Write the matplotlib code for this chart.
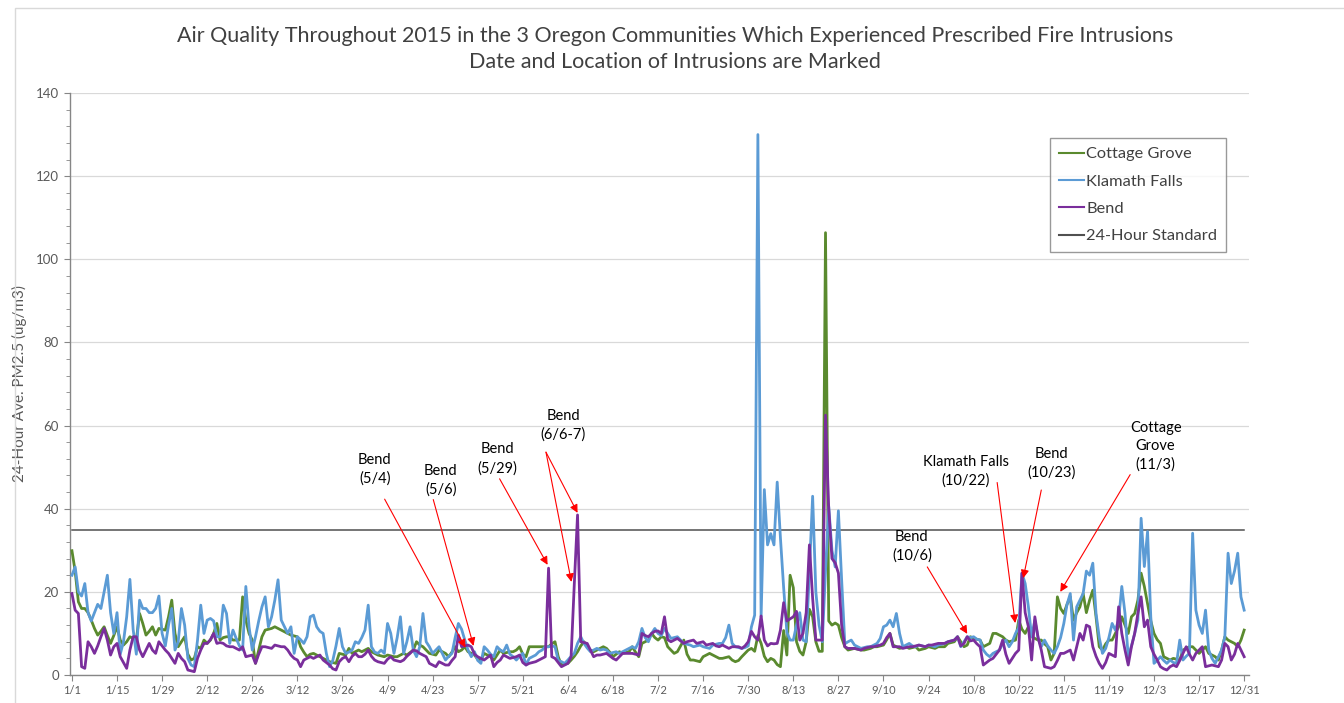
import numpy as np
import pandas as pd
import matplotlib
matplotlib.use("Agg")
import matplotlib.pyplot as plt
from matplotlib.patches import Rectangle

plt.rcParams['font.family'] = ['Lato', 'DejaVu Sans']

# ---------------- data ----------------
dates = pd.date_range("2015-01-01", "2015-12-31", freq="D")

cottage_grove = [
    29.9, 25, 17.6, 16, 16, 15, 13.2, 11.2, 9.6, 10.5,
    11.6, 9.5, 7.6, 9.5, 11.6, 8.4, 7.2, 8, 9.2, 8.8,
    8.4, 14.8, 12.4, 9.6, 10.5, 11.6, 9.6, 11.2, 11, 10.8,
    14, 18, 10, 6.8, 8, 9.2, 5, 3.6, 4, 6.8,
    6.4, 8.4, 7.6, 8.4, 10, 12.4, 8.4, 9, 9.2, 9.2,
    8.4, 8.4, 8.4, 18.8, 13.2, 10, 8.4, 2.8, 6, 9.2,
    10.8, 11, 11.2, 11.6, 11.2, 10.8, 10.4, 10, 9.6, 9.4,
    9.2, 6.8, 5.5, 4.4, 5, 5.2, 4.8, 4.4, 4, 3.6,
    3.2, 3, 2.8, 5.2, 5, 4.8, 6.4, 5.2, 5.6, 6,
    5.6, 6, 6.4, 5.6, 5.2, 4.8, 4.6, 4.4, 4.8, 4.6,
    4.4, 4.4, 4.8, 5.2, 4.8, 5.4, 6, 8, 7.2, 6.8,
    6, 5.2, 5, 4.8, 6, 5.6, 5.2, 4.4, 5.5, 6.8,
    5.6, 6, 6.8, 5.6, 5.2, 4.8, 3.8, 3.6, 5.2, 4.8,
    4.4, 3.6, 4.8, 6, 5.2, 5.4, 5.6, 5.6, 6, 6.8,
    5, 4.4, 6.8, 6.8, 6.8, 6.8, 6.8, 6.8, 6.8, 7.5,
    8, 4.4, 2.4, 2.6, 2.8, 3.6, 4.5, 5.6, 7, 8,
    6.8, 6, 5.6, 6, 6.4, 6.8, 6.4, 5.5, 4.4, 5,
    5.6, 5.2, 5.4, 5.6, 6.8, 5.5, 4.4, 7.6, 8, 8.4,
    10, 9, 8.4, 9.2, 9, 6.8, 6, 5.2, 5.6, 7,
    8.4, 5, 3.6, 3.6, 3.4, 3.2, 4.4, 4.8, 5.2, 4.8,
    4.4, 4, 4, 4.2, 4.4, 3.6, 3.2, 3.5, 4.4, 5.2,
    6, 6.4, 5.7, 9.5, 7.6, 4.5, 3.2, 4, 3.6, 2.5,
    2, 10.7, 4.8, 24, 21, 8, 5.7, 4.8, 8, 15.8,
    14, 8, 5.7, 5.7, 106.4, 13, 12, 12.5, 12, 9,
    6.8, 6, 6.2, 6.4, 6.2, 6, 6, 6.2, 6.4, 6.8,
    6.8, 7, 7.2, 8.5, 10, 7.2, 6.8, 6.4, 6.6, 6.8,
    6.4, 6.6, 6.8, 6, 6.2, 6.4, 6.8, 6.6, 6.4, 6.8,
    6.8, 6.8, 7.6, 7.8, 8, 9.2, 8, 6.8, 7.2, 9.2,
    8.8, 8.6, 8.4, 6.8, 7.2, 7.6, 10, 10, 9.6, 9.2,
    8.4, 8, 8.2, 8.4, 13.2, 11, 10, 11.6, 9.2, 8.8,
    8.4, 8.4, 7.5, 6.8, 3.6, 5.2, 18.8, 16, 14.8, 17,
    18.8, 13.2, 15, 16.4, 19.6, 15, 18, 20.4, 14, 6.8,
    6, 7.5, 8.4, 8.4, 10, 11.6, 14, 12, 10, 14,
    14.8, 18, 24.5, 21.3, 17.2, 13, 10, 8.5, 7.6, 4.4,
    4, 3.6, 4, 3.8, 3.6, 6, 6.4, 6.8, 6.8, 6,
    5.2, 6, 6.8, 5.2, 4.8, 4.4, 3.6, 6, 9.2, 8.4,
    8, 7.6, 6.8, 8.4, 10.8,
]

klamath_falls = [
    24, 26, 20, 19, 22, 15, 13, 15, 17, 16,
    20, 24, 15, 10, 15, 5, 8, 14, 23, 11,
    5, 18, 16, 16, 15, 15, 16, 19, 10, 7,
    12, 16, 6, 8, 16, 12, 4, 2.4, 2, 8.4,
    16.8, 10, 13.2, 13.6, 13, 9.2, 9.2, 16.8, 14.8, 7.6,
    10.8, 8.8, 7, 6, 21.3, 11.6, 6, 9.2, 13, 16.4,
    18.8, 11.6, 14, 18, 22.9, 13.2, 11.6, 10, 11.6, 5.2,
    9.2, 8.5, 7.6, 9.2, 14, 14.4, 11.6, 10.5, 10, 5.2,
    2, 3.5, 7, 11.2, 6.8, 5.2, 5.5, 6, 8, 7.6,
    9, 10.8, 16.8, 6.8, 5.5, 5.2, 6, 5.2, 12.4, 10,
    5.2, 9, 14, 5.2, 8, 11.6, 6, 4.4, 6.8, 14.8,
    8, 6.8, 5.2, 6, 6.8, 5.2, 3.6, 4.5, 5.2, 9,
    12.4, 11, 8.4, 6, 4.4, 5.6, 3.5, 2.8, 6.8, 6,
    5, 4.4, 6.8, 6, 5.6, 7.2, 5, 4.4, 3.6, 4.5,
    5.2, 2.4, 4, 4.4, 4.8, 5.6, 6, 6.8, 6.8, 7,
    6.8, 3.5, 3.2, 2.8, 3.6, 4.5, 5.2, 7.6, 9.2, 7.6,
    6.5, 5.6, 6, 6.4, 6, 6.2, 6, 5.2, 5.4, 5.6,
    5.2, 5.6, 6, 6.4, 6.8, 6.4, 8, 11.2, 9, 8,
    10, 11.2, 10, 9.5, 11.2, 10, 8.8, 9, 9.2, 8.4,
    7.6, 7.4, 7.2, 6.8, 7, 7.2, 6.8, 6.6, 6.4, 7.2,
    7.4, 7.6, 7.6, 9, 12, 7.6, 6.8, 6.6, 6.4, 6.6,
    7, 11.6, 14.4, 130, 14, 44.6, 31.3, 34, 31.3, 46.4,
    33, 21, 10.3, 8.4, 8.4, 12, 15, 8.4, 8, 25,
    43, 20, 12, 8, 25, 40.5, 30, 26, 39.5, 23,
    7.5, 8, 8.4, 7.2, 6.8, 6.4, 6.6, 6.8, 6.8, 7.2,
    7.6, 8.8, 11.6, 12, 13.2, 11.6, 14.8, 10, 6.8, 7.2,
    7.6, 7, 6.8, 7.2, 7, 6.8, 7.2, 7, 6.8, 7.2,
    7.4, 7.6, 8, 8.2, 8.4, 9.2, 6.8, 8, 9.2, 9,
    9.2, 8.6, 8.4, 6, 5, 4.4, 5.2, 5.6, 6, 7.5,
    8.4, 6.8, 8, 10, 11.4, 24.5, 22, 16.4, 9.2, 13.2,
    9, 6.8, 8.4, 7, 6, 5.2, 6.8, 9, 12.4, 17,
    19.6, 8.4, 16.4, 18, 19.6, 25, 24, 26.9, 14.8, 9,
    5.2, 6.4, 9, 12.4, 10.8, 13.2, 21.3, 14.8, 4.4, 7,
    10, 13.2, 37.7, 26.1, 34.5, 14, 2.8, 3.5, 4.4, 3.5,
    2.8, 3.6, 3, 2.8, 8.4, 3.6, 4.5, 5.2, 34.1, 15.6,
    12, 10, 15.6, 6, 4, 2.8, 4.4, 6, 9.2, 29.3,
    22, 25, 29.3, 18.8, 15.6,
]

bend = [
    19.6, 15.6, 14.8, 2, 1.6, 8, 6.8, 5.2, 7, 9.2,
    11.2, 8.4, 4.8, 6.8, 7.6, 4.4, 3, 1.6, 6, 9.2,
    9.2, 6, 4.4, 6, 7.6, 6, 5.2, 8, 7, 6,
    5.2, 4, 2.8, 5.2, 4, 3.2, 1.2, 1, 0.8, 4,
    6, 7.6, 7.6, 8.5, 10, 7.6, 7.8, 7.6, 7, 6.8,
    6.8, 6.4, 6, 6.8, 4.4, 4.6, 4.8, 2.8, 5, 6.8,
    6.8, 6.6, 6.4, 7.2, 7, 6.8, 6.8, 6, 4.8, 4,
    3.6, 2, 3.6, 4, 4.4, 4, 4.4, 4.8, 3.6, 3,
    2.4, 1.5, 1.2, 3.2, 4, 4.4, 3.2, 4.5, 5.2, 4.4,
    4.4, 5, 6, 4.5, 3.6, 3.2, 3, 2.8, 3.8, 4.4,
    3.6, 3.4, 3.2, 3.6, 4.5, 5.2, 6, 5.8, 5.2, 4.8,
    4.4, 2.8, 2.4, 2, 3.2, 2.8, 2.4, 2.4, 3.5, 4.4,
    9.6, 6.8, 7, 7.2, 6.8, 5, 4.4, 4, 3.6, 4.2,
    4.8, 2, 3, 3.6, 4.8, 4.4, 4, 4.2, 4.4, 4.8,
    3, 2.4, 2.8, 3, 3.2, 3.6, 4, 4.4, 25.7, 4.4,
    4, 3, 2, 2.4, 2.8, 4.4, 22, 38.5, 8, 7.8,
    7.6, 6, 4.4, 4.8, 4.8, 5, 5.2, 4.6, 4, 3.6,
    4.4, 5.2, 5.2, 5.2, 5.2, 5, 4.8, 10, 9.5, 9.2,
    10, 10.5, 10.6, 10, 14, 8.5, 8, 8.4, 8.8, 8.2,
    7.6, 8, 8.2, 8.4, 7.6, 7.8, 8, 7.2, 7.4, 7.6,
    7, 6.8, 7.2, 6.8, 6.4, 6.8, 6.8, 6.8, 6.4, 7,
    8, 10.5, 9.2, 8.4, 14.2, 8.4, 7, 7.6, 7.5, 7.6,
    10.8, 17.4, 13, 13.5, 14, 15.3, 8.4, 10, 15, 31.3,
    18.5, 8.4, 8.4, 8.4, 62.5, 40, 28, 27, 24.5, 12,
    6.8, 6.4, 6.4, 6.4, 6.2, 6, 6.4, 6.6, 6.8, 6.8,
    7, 7.2, 7.6, 9, 10, 6.8, 6.8, 6.8, 6.4, 6.6,
    6.8, 6.8, 7, 7.2, 7, 6.8, 7.2, 7.2, 7.4, 7.6,
    7.6, 7.6, 8, 8.2, 8.4, 9.2, 7, 7.6, 9.2, 8.2,
    8.4, 7.5, 6.8, 2.4, 3, 3.6, 4, 5, 6, 8.4,
    5, 2.8, 4, 5.2, 6, 24.5, 15, 11.6, 3.6, 14,
    9, 6, 2, 1.8, 1.6, 2, 3.5, 5.2, 5.2, 5.6,
    6, 3.6, 6.8, 10, 8.4, 12, 11.6, 6.8, 4.5, 2.8,
    1.6, 3, 5.2, 4.8, 4.4, 16.4, 10, 6, 2.4, 6.8,
    10, 14.8, 18.8, 11.6, 13.2, 6.8, 5, 3.6, 2, 1.5,
    1.2, 2, 2.4, 2, 3.5, 5.2, 6.8, 5, 3.6, 5.2,
    6, 6.8, 2, 2.2, 2.4, 2.2, 2, 3.6, 7.6, 6.8,
    3.6, 5, 7.6, 6, 4.4,
]

standard_24h = 35

series_names = ["Cottage Grove", "Klamath Falls", "Bend", "24-Hour Standard"]

# intrusion labels: (text, text position (day, value), arrow start, [arrow tips])
intrusions = [
    ("Bend\n(5/4)", (94, 49.5), (97.1, 42.3), [(122.2, 6.6)]),
    ("Bend\n(5/6)", (114.5, 46.8), (112.2, 42.2), [(124.7, 7.0)]),
    ("Bend\n(5/29)", (132.0, 52.0), (132.8, 47.2), [(147.7, 26.5)]),
    ("Bend\n(6/6-7)", (152.5, 60.0), (147.2, 53.6), [(155.1, 22.4), (157.0, 39.0)]),
    ("Bend\n(10/6)", (260.8, 31.0), (265.6, 26.0), [(278.0, 9.9)]),
    ("Klamath Falls\n(10/22)", (277.5, 49.0), (287.3, 46.3), [(292.9, 12.5)]),
    ("Bend\n(10/23)", (304.3, 51.0), (301.0, 44.5), [(295.4, 23.3)]),
    ("Cottage\nGrove\n(11/3)", (336.5, 55.0), (328.6, 48.2), [(306.9, 20.0)]),
]

# ---------------- figure ----------------
W, H = 1344, 703
fig = plt.figure(figsize=(W / 100, H / 100), dpi=100)
fig.patch.set_facecolor("white")

# chart outer border
fig.add_artist(Rectangle((15 / W, -0.02), 1.2, 1 - 8 / H + 0.02, transform=fig.transFigure,
                         fill=False, edgecolor="#D9D9D9", lw=1.0))

ax_left, ax_right = 70, 1249
ax_top, ax_bottom = 93, 675
ax = fig.add_axes([ax_left / W, (H - ax_bottom) / H, (ax_right - ax_left) / W,
                   (ax_bottom - ax_top) / H])

x = np.arange(len(dates))
colors = ["#5A8A2E", "#5B9BD5", "#7A2E9C"]
for vals, name, col in zip([cottage_grove, klamath_falls, bend], series_names[:3], colors):
    ax.plot(x, vals, color=col, lw=2.0, label=name, solid_joinstyle="round", zorder=3)
ax.plot([x[0], x[-1]], [standard_24h, standard_24h], color="#505050", lw=1.1,
        label=series_names[3], zorder=2)

ax.set_xlim(-0.6, 365.5)
ax.set_ylim(0, 140)
ax.set_yticks(np.arange(0, 141, 20))
ax.set_yticks(np.arange(0, 141, 4), minor=True)
ax.yaxis.grid(True, color="#D9D9D9", lw=0.9)
ax.set_axisbelow(True)

tick_idx = x[::14]
ax.set_xticks(tick_idx)
ax.set_xticklabels([f"{d.month}/{d.day}" for d in dates[::14]])

for s in ["top", "right"]:
    ax.spines[s].set_visible(False)
for s in ["left", "bottom"]:
    ax.spines[s].set_color("#868686")
    ax.spines[s].set_linewidth(1.0)

ax.tick_params(axis="x", which="major", length=4, color="#868686", labelsize=8,
               labelcolor="#595959", pad=3)
ax.tick_params(axis="y", which="major", length=4, color="#868686", labelsize=9.5,
               labelcolor="#595959", pad=4)
ax.tick_params(axis="y", which="minor", length=3, color="#868686")

ax.set_ylabel("24-Hour Ave. PM2.5 (ug/m3)", fontsize=11, color="#595959", labelpad=6)

fig.text(675 / W, 1 - 36 / H,
         "Air Quality Throughout 2015 in the 3 Oregon Communities Which Experienced Prescribed Fire Intrusions",
         ha="center", va="center", fontsize=15.5, color="#404040")
fig.text(675 / W, 1 - 62 / H, "Date and Location of Intrusions are Marked",
         ha="center", va="center", fontsize=15.5, color="#404040")

for label, txy, start, tips in intrusions:
    ax.text(txy[0], txy[1], label, ha="center", va="center", fontsize=10.5,
            color="black", linespacing=1.4, zorder=5)
    for tip in tips:
        ax.annotate("", xy=tip, xytext=start,
                    arrowprops=dict(arrowstyle="-|>", color="#FF0000", lw=0.8,
                                    mutation_scale=12, shrinkA=0, shrinkB=0),
                    zorder=5)

leg = ax.legend(loc="upper left", bbox_to_anchor=((1050 - ax_left) / (ax_right - ax_left),
                                                  (ax_bottom - 138) / (ax_bottom - ax_top)),
                borderaxespad=0, fontsize=11.8, frameon=True, fancybox=False,
                handlelength=1.55, handletextpad=0.1, labelspacing=0.78,
                borderpad=0.55, labelcolor="#404040")
leg.get_frame().set_edgecolor("#808080")
leg.get_frame().set_linewidth(1.0)
for h in leg.get_lines():
    h.set_linewidth(1.5)

fig.savefig("out.png", dpi=100, facecolor="white")
